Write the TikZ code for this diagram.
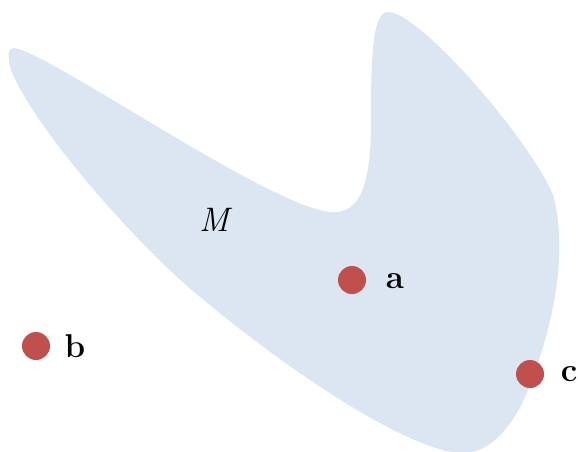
\documentclass[tikz,border=0pt]{standalone}
\usepackage{tikz}
\definecolor{regionblue}{HTML}{DCE6F2}
\definecolor{dotred}{HTML}{C0504D}
\begin{document}
\begin{tikzpicture}[x=1pt,y=-1pt,
  dot/.style={circle,fill=dotred,minimum size=28pt,inner sep=0pt},
  lbl/.style={font=\fontsize{33}{38}\selectfont\bfseries,inner sep=0pt}]
\useasboundingbox (0,0) rectangle (578,452);
\fill[regionblue] (14,48) .. controls (50,52) and (280,215) .. (335,212)
  .. controls (365,212) and (371,170) .. (371,120)
  .. controls (371,60) and (372,12) .. (388,12)
  .. controls (420,12) and (530,140) .. (553,195)
  .. controls (568,250) and (555,320) .. (530,385)
  .. controls (515,425) and (490,455) .. (460,453)
  .. controls (410,450) and (300,380) .. (200,297)
  .. controls (140,248) and (35,130) .. (11,70)
  .. controls (7,56) and (8,47) .. (14,48) -- cycle;
\node[font=\fontsize{34}{38}\selectfont\itshape,inner sep=0pt] (M) at (214,220) {M};
\node[dot] (a) at (352,280) {};
\node[dot] (b) at (36,346) {};
\node[dot] (c) at (530,374) {};
\node[lbl] (la) at (395,281) {a};
\node[lbl] (lb) at (75,346) {b};
\node[lbl] (lc) at (569,374) {c};
\end{tikzpicture}
\end{document}
